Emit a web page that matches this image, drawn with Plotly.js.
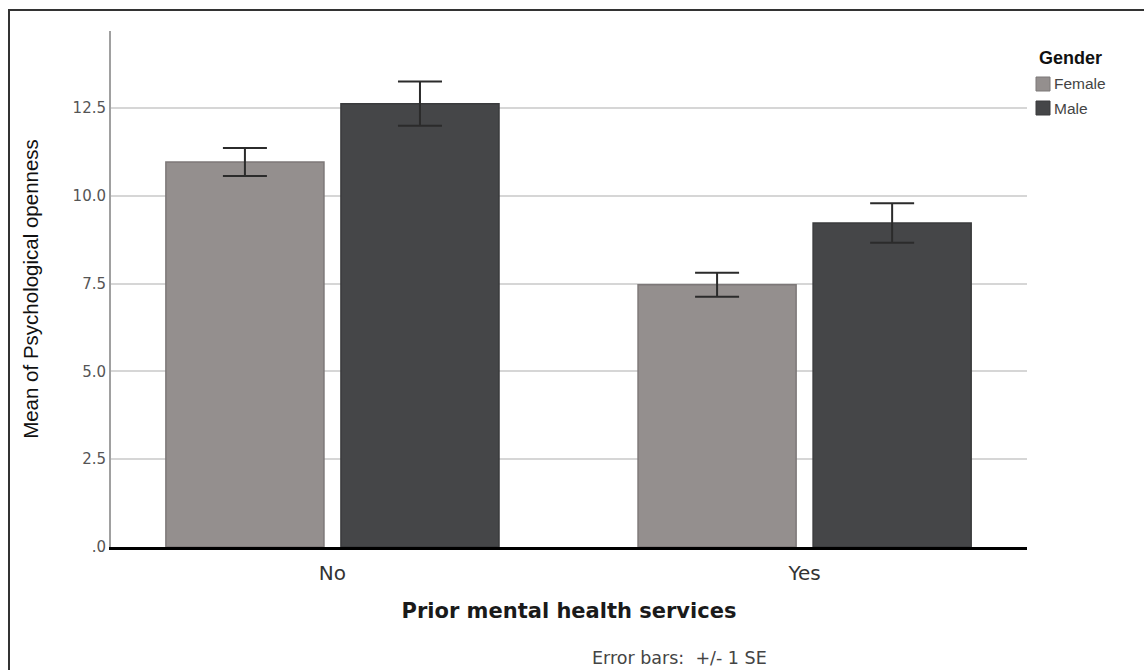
<!DOCTYPE html>
<html>
<head>
<meta charset="utf-8">
<script src="https://cdn.plot.ly/plotly-3.0.1.min.js"></script>
<style>
  html, body { margin: 0; padding: 0; background: #fff; }
  #wrap { position: relative; width: 1144px; height: 670px; overflow: hidden; }
  #frame { position: absolute; left: 8px; top: 9px; width: 1200px; height: 700px;
           border-left: 2px solid #333; border-top: 2px solid #333; pointer-events: none; }
  #chart { position: absolute; left: 0; top: 0; width: 1144px; height: 670px; }
</style>
</head>
<body>
<div id="wrap">
  <div id="chart"></div>
  <div id="frame"></div>
</div>
<script>
const categories = ["No", "Yes"];
const seriesNames = ["Female", "Male"];
const femaleMeans = [10.97, 7.47];
const maleMeans = [12.63, 9.23];
const femaleSE = [0.40, 0.34];
const maleSE = [0.63, 0.56];
const yTickVals = [0, 2.5, 5, 7.5, 10, 12.5];
const yTickText = [".0", "2.5", "5.0", "7.5", "10.0", "12.5"];

const colors = ["#948f8e", "#454648"];
const outlines = ["#7d7878", "#3a3b3d"];

const errStyle = (arr) => ({ type: "data", array: arr, visible: true, color: "#2b2b2b", thickness: 2, width: 22 });

const traces = [
  { type: "bar", name: seriesNames[0], x: categories, y: femaleMeans,
    marker: { color: colors[0], line: { color: outlines[0], width: 1.5 } },
    error_y: errStyle(femaleSE), hoverinfo: "none" },
  { type: "bar", name: seriesNames[1], x: categories, y: maleMeans,
    marker: { color: colors[1], line: { color: outlines[1], width: 1.5 } },
    error_y: errStyle(maleSE), hoverinfo: "none" }
];

// pixel -> paper helpers (plot area 111..1027 x, 31..547 y)
const PL = 111, PW = 916, PB = 547, PH = 516;
const px = (x) => (x - PL) / PW;
const py = (y) => (PB - y) / PH;

const legendShapes = seriesNames.map((n, i) => ({
  type: "rect", xref: "paper", yref: "paper",
  x0: px(1036), x1: px(1050), y0: py(77 + 24 * i), y1: py(91 + 24 * i),
  fillcolor: colors[i], line: { color: outlines[i], width: 1 }
}));
const legendTexts = seriesNames.map((n, i) => ({
  text: n, xref: "paper", yref: "paper", x: px(1052), y: py(84 + 24 * i),
  xanchor: "left", yanchor: "middle", showarrow: false,
  font: { size: 15.5, color: "#444" }
}));

const layout = {
  width: 1144, height: 670,
  margin: { l: 111, r: 117, t: 31, b: 123 },
  paper_bgcolor: "rgba(0,0,0,0)", plot_bgcolor: "#fff",
  barmode: "group", bargap: 0.2585, bargroupgap: 0.097,
  showlegend: false,
  font: { family: "Liberation Sans, Arial, sans-serif", color: "#333" },
  xaxis: {
    type: "category", range: [-0.469, 1.471],
    showline: true, linecolor: "#000", linewidth: 3,
    ticks: "", showgrid: false, zeroline: false,
    ticklabelstandoff: 6,
    tickfont: { family: "DejaVu Sans, sans-serif", size: 20, color: "#333" },
    title: { text: "Prior mental health services", font: { family: "DejaVu Sans, sans-serif", size: 21, color: "#1a1a1a", weight: "bold" }, standoff: 20 }
  },
  yaxis: {
    range: [0, 14.7], tickvals: yTickVals, ticktext: yTickText,
    showline: true, linecolor: "#a0a0a0", linewidth: 2,
    showgrid: true, gridcolor: "#d6d6d6", gridwidth: 2,
    zeroline: false, ticks: "",
    tickfont: { family: "DejaVu Sans, sans-serif", size: 15, color: "#555" },
    title: { text: "Mean of Psychological openness", font: { size: 20.5, color: "#111" }, standoff: 28 }
  },
  shapes: legendShapes,
  annotations: [
    { text: "<b>Gender</b>", xref: "paper", yref: "paper", x: px(1037), y: py(58),
      xanchor: "left", yanchor: "middle", showarrow: false, font: { size: 18, color: "#111" } },
    ...legendTexts,
    { text: "Error bars:  +/- 1 SE", xref: "paper", yref: "paper",
      x: px(590), y: py(658), xanchor: "left", yanchor: "middle",
      showarrow: false, font: { family: "DejaVu Sans, sans-serif", size: 17.5, color: "#444" } }
  ]
};

Plotly.newPlot("chart", traces, layout, { displayModeBar: false, staticPlot: true });
</script>
</body>
</html>
